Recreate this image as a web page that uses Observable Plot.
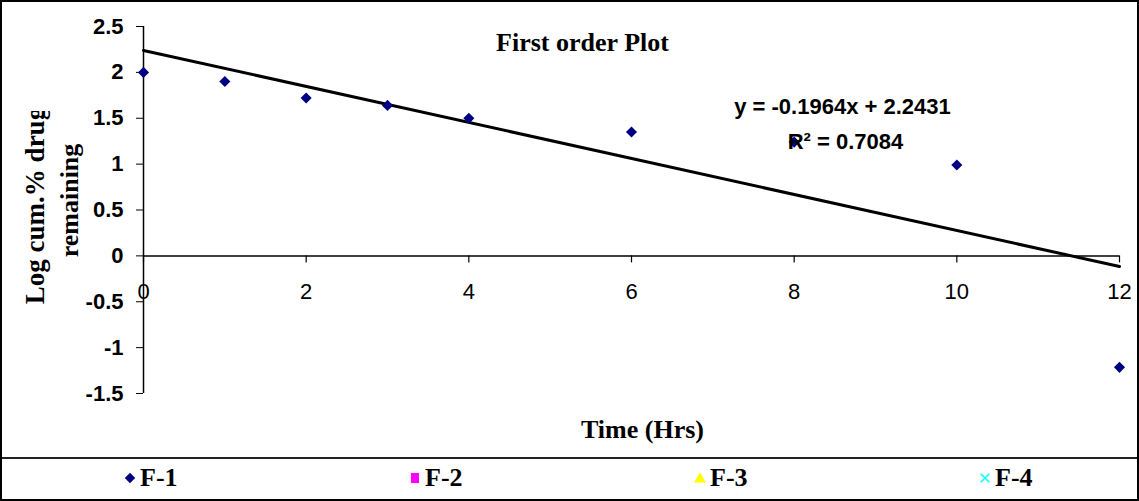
<!DOCTYPE html>
<html>
<head>
<meta charset="utf-8">
<script src="https://cdn.jsdelivr.net/npm/d3@7"></script>
<script src="https://cdn.jsdelivr.net/npm/@observablehq/plot@0.6"></script>
<style>
html,body{margin:0;padding:0;background:#fff;}
#frame{width:1139px;height:501px;box-sizing:border-box;border:2px solid #000;background:#fff;overflow:hidden;}
#plot svg{display:block;}
#legend{height:40px;box-sizing:border-box;border-top:2px solid #222;display:grid;grid-template-columns:repeat(4,285px);padding-left:121px;align-items:center;font-family:"Liberation Serif","Times New Roman",serif;font-weight:bold;font-size:26px;color:#000;}
.item{display:flex;align-items:center;gap:3px;}
.item svg{display:block;}
</style>
</head>
<body>
<div id="frame"><div id="plot"></div><div id="legend"></div></div>
<script>
// ---- data ----
const hours = [0, 1, 2, 3, 4, 6, 8, 10, 12];
const logRemaining = [2.0, 1.9, 1.72, 1.64, 1.5, 1.35, 1.24, 0.99, -1.215];
const xTicks = [0, 2, 4, 6, 8, 10, 12];
const yTicks = [-1.5, -1, -0.5, 0, 0.5, 1, 1.5, 2, 2.5];
const seriesNames = ["F-1", "F-2", "F-3", "F-4"];
const seriesColors = ["#000080", "#FF00FF", "#FFFF00", "#00FFFF"];
const seriesSymbols = ["diamond", "square", "triangle", "times"];
const chartTitle = "First order Plot";
const xTitle = "Time (Hrs)";
const yTitleLines = ["Log cum.% drug", "remaining"];
const equationText = "y = -0.1964x + 2.2431";
const r2Text = "R² = 0.7084";

const data = hours.map((h, i) => ({hours: h, value: logRemaining[i]}));
const serif = "'Liberation Serif','Times New Roman',serif";
const sans = "'Liberation Sans',Arial,sans-serif";

const chart = Plot.plot({
  width: 1135,
  height: 455,
  marginLeft: 141,
  marginRight: 18,
  marginTop: 24,
  marginBottom: 64,
  x: {domain: [0, 12], axis: null},
  y: {domain: [-1.5, 2.5], axis: null},
  style: {fontFamily: sans, fontSize: "22px", background: "#fff", color: "#000", overflow: "visible"},
  marks: [
    Plot.ruleY([0], {stroke: "#000", strokeWidth: 1.5}),
    Plot.ruleX(xTicks, {x: d => d, y1: 0, y2: 0, insetBottom: -7, stroke: "#000", strokeWidth: 1.2}),
    Plot.text(xTicks, {x: d => d, y: 0, text: d => String(d), dy: 36, fontSize: 22, fontFamily: sans, fill: "#000"}),
    Plot.ruleX([0], {stroke: "#000", strokeWidth: 1.5}),
    Plot.axisY({ticks: yTicks, tickSize: 7, tickPadding: 13, tickFormat: d => String(d),
      fontSize: 22, fontWeight: "bold", fontFamily: sans, label: null, stroke: "#000", fill: "#000"}),
    Plot.linearRegressionY(data, {x: "hours", y: "value", ci: 0, stroke: "#000", strokeWidth: 3}),
    Plot.dot(data, {x: "hours", y: "value", symbol: "diamond2", r: 5, fill: seriesColors[0]}),
    Plot.text([chartTitle], {text: d => d, frameAnchor: "top-left", dx: 439, dy: 24, textAnchor: "middle", lineAnchor: "bottom",
      fontFamily: serif, fontWeight: "bold", fontSize: 26, fill: "#000"}),
    Plot.text([xTitle], {text: d => d, frameAnchor: "bottom", dx: 11, dy: 44, textAnchor: "middle", lineAnchor: "bottom",
      fontFamily: serif, fontWeight: "bold", fontSize: 26, fill: "#000"}),
    Plot.text([yTitleLines[0]], {text: d => d, frameAnchor: "left", dx: -100, dy: -4.5, rotate: -90, textAnchor: "middle", lineAnchor: "bottom",
      fontFamily: serif, fontWeight: "bold", fontSize: 27, fill: "#000"}),
    Plot.text([yTitleLines[1]], {text: d => d, frameAnchor: "left", dx: -66, dy: -9.5, rotate: -90, textAnchor: "middle", lineAnchor: "bottom",
      fontFamily: serif, fontWeight: "bold", fontSize: 26, fill: "#000"}),
    Plot.text([equationText], {text: d => d, frameAnchor: "top-left", dx: 699, dy: 87, textAnchor: "middle", lineAnchor: "bottom",
      fontFamily: sans, fontWeight: "bold", fontSize: 22, fill: "#000"}),
    Plot.text([r2Text], {text: d => d, frameAnchor: "top-left", dx: 702, dy: 122, textAnchor: "middle", lineAnchor: "bottom",
      fontFamily: sans, fontWeight: "bold", fontSize: 22, fill: "#000"})
  ]
});

// clip the y-axis title like the original (first line is cut at the top)
(function () {
  const svg = d3.select(chart);
  svg.append("defs").append("clipPath").attr("id", "ytitle-clip")
    .append("rect").attr("x", 0).attr("y", 109).attr("width", 141).attr("height", 346);
  svg.selectAll("text").filter(function () { return this.textContent === yTitleLines[0]; }).each(function () {
    const g = this.parentNode;
    const w = document.createElementNS("http://www.w3.org/2000/svg", "g");
    g.parentNode.insertBefore(w, g);
    w.appendChild(g);
    w.setAttribute("clip-path", "url(#ytitle-clip)");
  });
})();

document.getElementById("plot").appendChild(chart);

// legend
const legend = d3.select("#legend");
seriesNames.forEach((name, i) => {
  const item = legend.append("div").attr("class", "item");
  const s = item.append("svg").attr("width", 14).attr("height", 16);
  const type = seriesSymbols[i];
  if (type === "diamond") {
    s.append("path").attr("transform", "translate(7,8)").attr("d", d3.symbol(d3.symbolDiamond2, 70)()).attr("fill", seriesColors[i]);
  } else if (type === "square") {
    s.append("rect").attr("x", 3).attr("y", 3).attr("width", 8).attr("height", 10).attr("fill", seriesColors[i]);
  } else if (type === "triangle") {
    s.append("path").attr("transform", "translate(7,9)").attr("d", d3.symbol(d3.symbolTriangle, 60)()).attr("fill", seriesColors[i]);
  } else {
    s.append("path").attr("transform", "translate(7,8)").attr("d", d3.symbol(d3.symbolTimes, 50)()).attr("fill", "none").attr("stroke", seriesColors[i]).attr("stroke-width", 1.5);
  }
  item.append("span").text(name);
});
</script>
</body>
</html>
